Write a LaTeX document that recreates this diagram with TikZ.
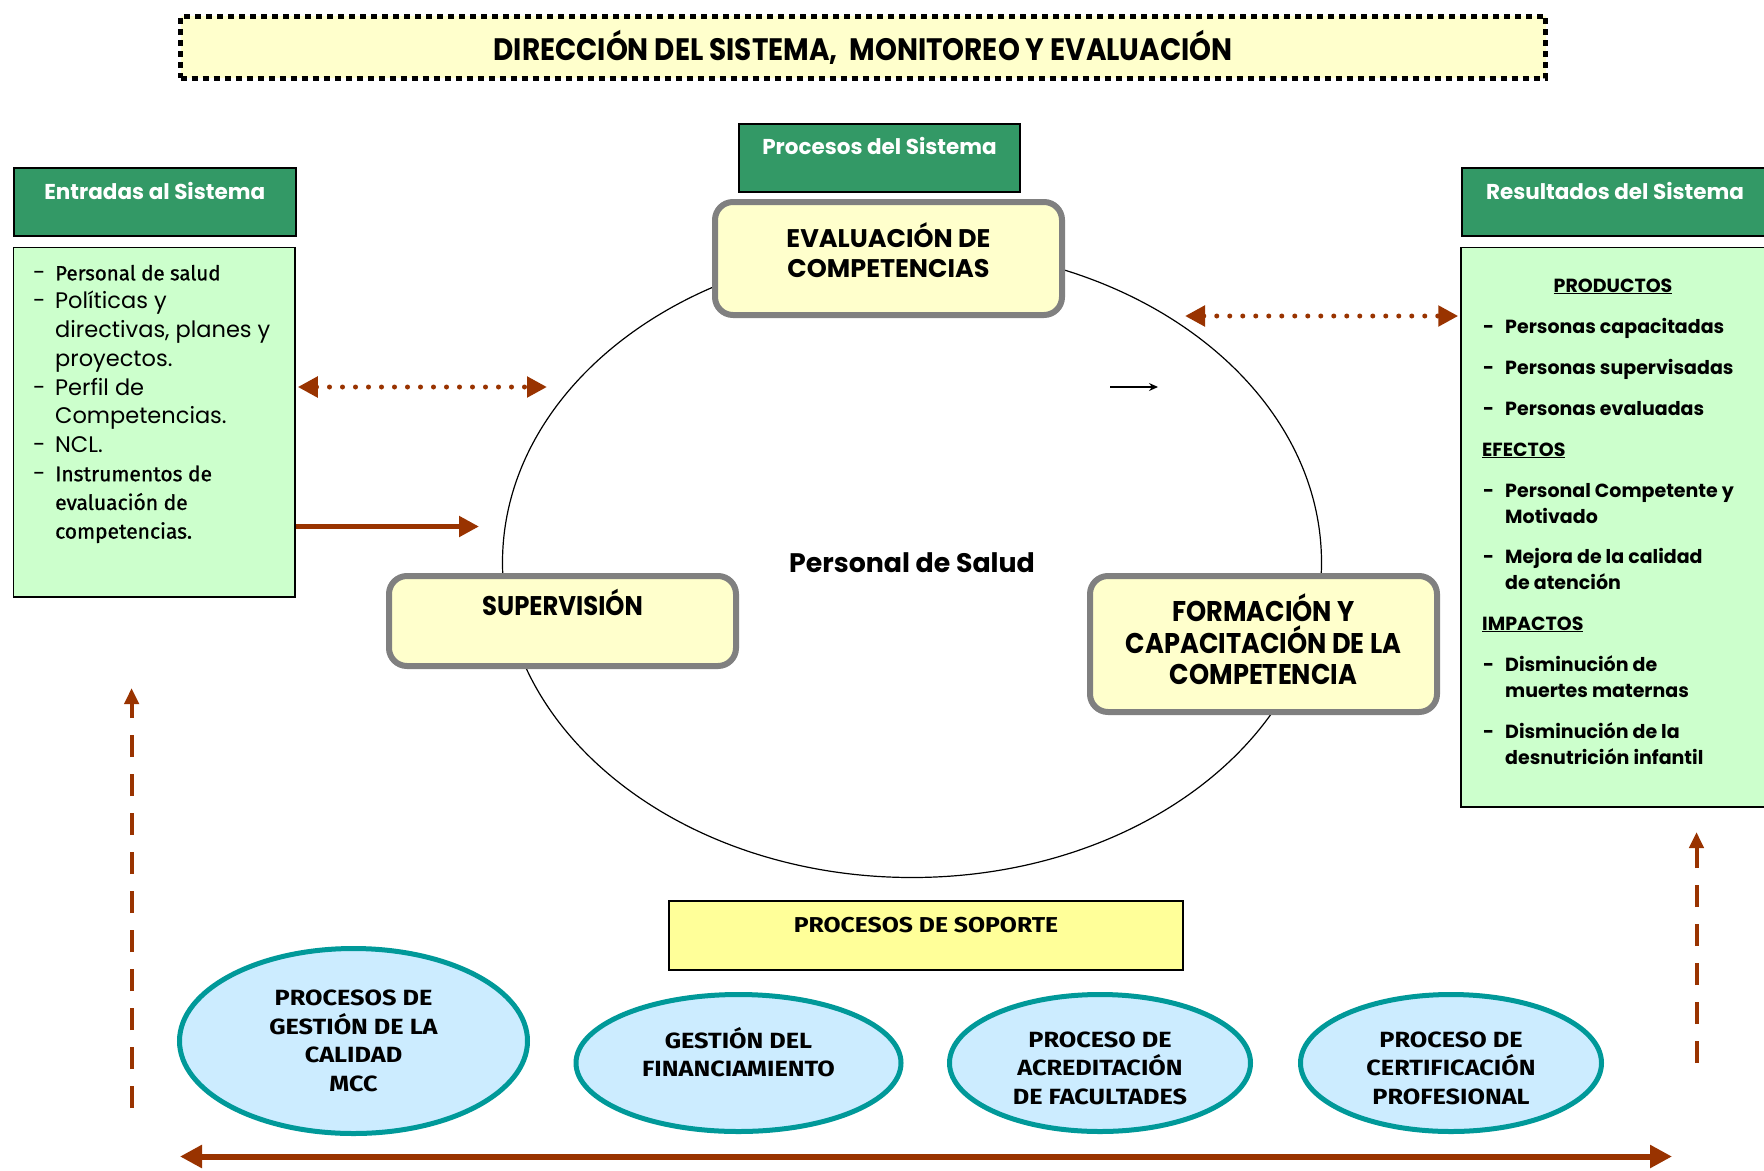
\documentclass[tikz,border=0pt]{standalone}
\usepackage{fontspec}
\setmainfont{Poppins}
\newfontfamily\cond[FakeStretch=0.9]{Poppins}
\newfontfamily\comic[FakeBold=1]{Fira Sans}
\newfontfamily\comicw[FakeStretch=1.15]{Fira Sans}
\usetikzlibrary{arrows.meta,shapes.geometric}
\definecolor{dkgreen}{HTML}{339966}
\definecolor{ltgreen}{HTML}{CCFFCC}
\definecolor{ltyellow}{HTML}{FFFFCC}
\definecolor{soporte}{HTML}{FFFF99}
\definecolor{brown}{HTML}{993300}
\definecolor{ltblue}{HTML}{CCECFF}
\definecolor{teal}{HTML}{009999}
\definecolor{bordergray}{HTML}{808080}
\begin{document}
\begin{tikzpicture}[x=1pt,y=-1pt,
  titlebox/.style={draw=black, fill=ltyellow, line width=5pt, dash pattern=on 6pt off 5pt,
    minimum width=1365pt, minimum height=62pt, inner sep=0pt,
    font=\cond\bfseries\fontsize{31}{34}\selectfont},
  hdrbox/.style={draw=black, line width=1.5pt, fill=dkgreen, text=white, inner sep=0pt,
    minimum height=68pt, font=\bfseries\fontsize{21.5}{24}\selectfont, text height=16pt},
  listbox/.style={draw=black, line width=1.5pt, fill=ltgreen, inner sep=0pt},
  procbox/.style={draw=bordergray, line width=6pt, fill=ltyellow, rounded corners=18pt,
    minimum width=347pt, inner sep=0pt},
  proctext/.style={align=center, font=\bfseries\fontsize{25.5}{30.5}\selectfont, inner sep=0pt},
  condtext/.style={align=center, font=\cond\bfseries\fontsize{28.5}{31.5}\selectfont, inner sep=0pt},
  suptext/.style={align=center, inner sep=0pt, font=\comicw\bfseries\fontsize{22}{28.5}\selectfont},
  supbox/.style={draw=teal, line width=5pt, fill=ltblue, ellipse, inner sep=0pt, suptext},
  rtext/.style={anchor=base west, inner sep=0pt, font=\bfseries\fontsize{19}{22}\selectfont},
  rhead/.style={anchor=base west, inner sep=0pt, font=\bfseries\fontsize{19}{22}\selectfont},
  dotarrow/.style={brown, line width=5pt, line cap=round, dash pattern=on 0pt off 13pt,
    {Triangle[length=20pt,width=20pt]}-{Triangle[length=20pt,width=20pt]}, shorten <=2pt, shorten >=2pt},
  solidarrow/.style={brown, line width=5pt, -{Triangle[length=20pt,width=20pt]}},
  dasharrow/.style={brown, line width=4pt, dash pattern=on 22pt off 17pt, -{Triangle[length=16pt,width=14pt]}},
  longarrow/.style={brown, line width=6pt, {Triangle[length=22pt,width=22pt]}-{Triangle[length=22pt,width=22pt]}}
]
\useasboundingbox[fill=white] (0,0) rectangle (1764,1170);

% title
\node[titlebox] (title) at (863,47) {DIRECCIÓN DEL SISTEMA,\ \ MONITOREO Y EVALUACIÓN};

% central cycle
\node[draw=black, line width=1.2pt, ellipse, minimum width=819pt, minimum height=630pt, inner sep=0pt,
  font=\bfseries\fontsize{26.8}{30}\selectfont] (cycle) at (912,562.5) {Personal de Salud};

\node[hdrbox, minimum width=281pt, text depth=23pt] (proc) at (879.5,158) {Procesos del Sistema};

\node[procbox, minimum height=113pt] (eval) at (888.5,258.5) {};
\node[proctext] (evalt) at ([yshift=8.5pt]eval.center) {EVALUACIÓN DE\\COMPETENCIAS};

\node[procbox, minimum height=90pt, font=\cond\bfseries\fontsize{27}{30}\selectfont,
  text height=19pt, text depth=30pt] (sup) at (562.5,621) {SUPERVISIÓN};

\node[procbox, minimum height=136pt] (form) at (1263.5,644) {};
\node[condtext] (formt) at ([yshift=4.5pt]form.center) {FORMACIÓN Y\\CAPACITACIÓN DE LA\\COMPETENCIA};

% small arrow
\coordinate (sa1) at (1110,387);
\coordinate (sa2) at (1158,387);
\draw[line width=1.3pt, -{Stealth[length=9pt,width=8pt]}] (sa1) -- (sa2);

% inputs
\node[hdrbox, minimum width=282pt, text depth=21pt] (inhdr) at (154.75,202) {Entradas al Sistema};
\node[listbox, minimum width=281.5pt, minimum height=349.5pt] (inbox) at (154.25,422.25) {};
\node[anchor=north west, inner sep=0pt] (inlist) at (33,260) {%
\fontsize{22.5}{28.7}\selectfont
\begin{tabular}{@{}p{22pt}@{}l@{}}
-&{\comic\fontsize{20.5}{28.7}\selectfont Personal de salud}\\
-&Políticas y\\
&directivas, planes y\\
&proyectos.\\
-&Perfil de\\
&Competencias.\\
-&NCL.\\
-&{\comic\fontsize{21}{28.7}\selectfont Instrumentos de}\\
&{\comic\fontsize{21}{28.7}\selectfont evaluación de}\\
&{\comic\fontsize{21}{28.7}\selectfont competencias.}
\end{tabular}};

% outputs
\node[hdrbox, minimum width=306pt, text depth=21pt] (outhdr) at (1615,202) {Resultados del Sistema};
\node[listbox, minimum width=307pt, minimum height=559.5pt] (outbox) at (1614.5,527.25) {};
\node[rhead, anchor=base] (prod) at (1613,292) {\underline{PRODUCTOS}};
\node[rhead] (efec) at (1482,456) {\underline{EFECTOS}};
\node[rhead] (imp) at (1482,630) {\underline{IMPACTOS}};
\foreach \y/\t [count=\i] in {333/Personas capacitadas, 374/Personas supervisadas, 415.5/Personas evaluadas,
  497.6/Personal Competente y, 523.5/Motivado, 563/Mejora de la calidad, 589/de atención,
  671/Disminución de, 697/muertes maternas, 738/Disminución de la, 764/desnutrición infantil}
  {\node[rtext] (r\i) at (1505,\y) {\t};}
\foreach \y [count=\i] in {333,374,415.5,497.6,563,671,738}
  {\node[rtext] (d\i) at (1483,\y) {-};}

% arrows between inputs/outputs and cycle
\coordinate (dl) at (549,387);
\draw[dotarrow] (inbox.east |- dl) -- (dl);
\coordinate (sl) at (479,526.5);
\draw[solidarrow] (inbox.east |- sl) -- (sl);
\coordinate (dr) at (1183,316);
\draw[dotarrow] (dr) -- (outbox.west |- dr);

% support
\node[draw=black, line width=1.5pt, fill=soporte, minimum width=514pt, minimum height=69pt, inner sep=0pt,
  font=\comicw\bfseries\fontsize{21.5}{24}\selectfont, text height=15pt, text depth=21pt] (sop) at (926,935.5) {PROCESOS DE SOPORTE};

\node[supbox, minimum width=348pt, minimum height=185pt] (s1) at (353.5,1041) {PROCESOS DE\\GESTIÓN DE LA\\CALIDAD\\MCC};
\node[supbox, minimum width=325pt, minimum height=137pt] (s2) at (738.5,1063) {};
\node[suptext] (s2t) at ([yshift=11pt]s2.center) {GESTIÓN DEL\\FINANCIAMIENTO};
\node[supbox, minimum width=301pt, minimum height=137pt] (s3) at (1100,1063) {};
\node[suptext] (s3t) at ([yshift=-5pt]s3.center) {PROCESO DE\\ACREDITACIÓN\\DE FACULTADES};
\node[supbox, minimum width=301pt, minimum height=137pt] (s4) at (1451,1063) {};
\node[suptext] (s4t) at ([yshift=-5pt]s4.center) {PROCESO DE\\CERTIFICACIÓN\\PROFESIONAL};

\coordinate (vl1) at (131.6,1108);
\coordinate (vl2) at (131.6,688);
\draw[dasharrow] (vl1) -- (vl2);
\coordinate (vr1) at (1696.5,1063);
\coordinate (vr2) at (1696.5,832);
\draw[dasharrow] (vr1) -- (vr2);

\coordinate (bl) at (180,1156.5);
\coordinate (br) at (1672,1156.5);
\draw[longarrow] (bl) -- (br);
\end{tikzpicture}
\end{document}
